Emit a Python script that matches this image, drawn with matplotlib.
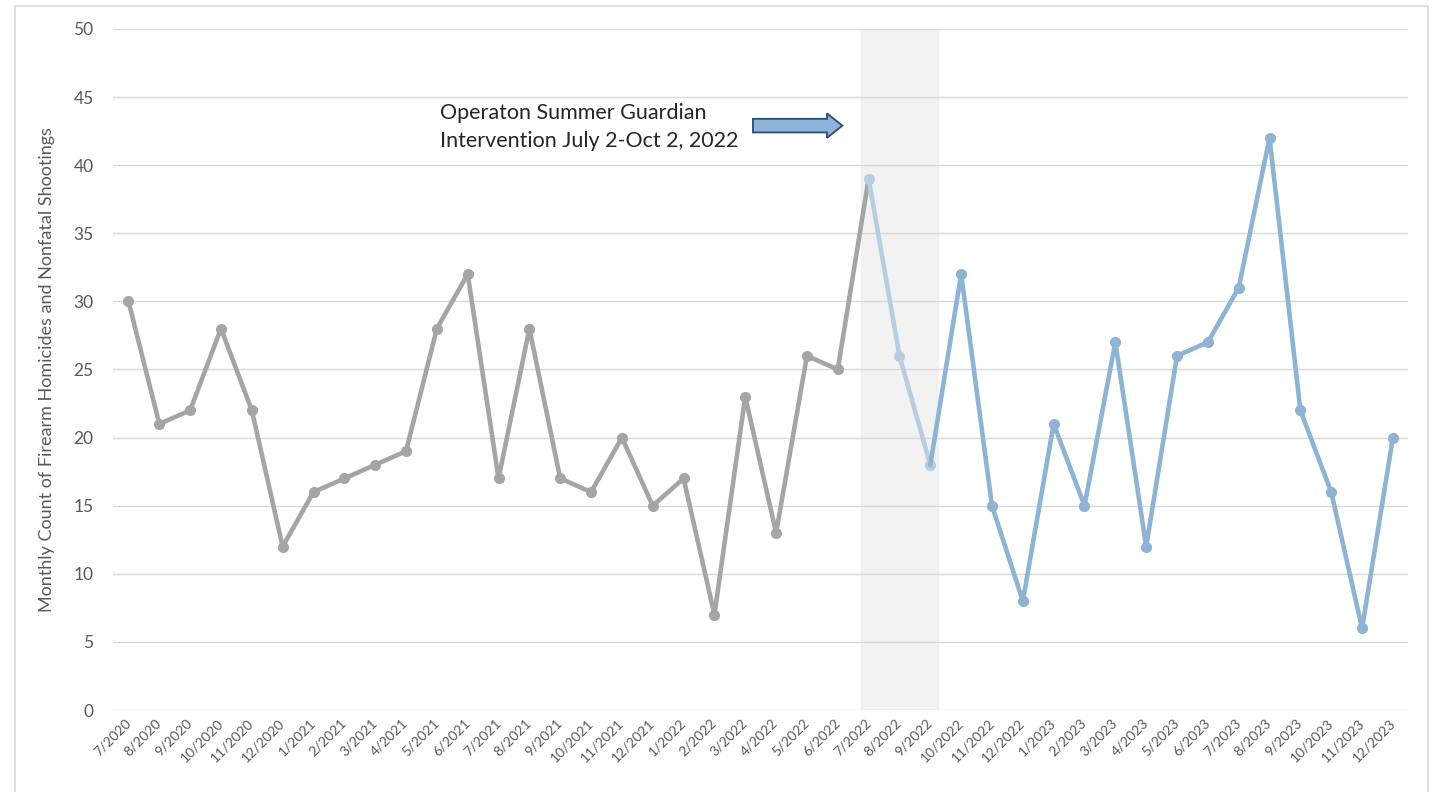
import matplotlib.pyplot as plt
from matplotlib.patches import FancyArrow, Rectangle

plt.rcParams['font.family'] = ['Lato', 'DejaVu Sans']

months = ['7/2020', '8/2020', '9/2020', '10/2020', '11/2020', '12/2020',
          '1/2021', '2/2021', '3/2021', '4/2021', '5/2021', '6/2021',
          '7/2021', '8/2021', '9/2021', '10/2021', '11/2021', '12/2021',
          '1/2022', '2/2022', '3/2022', '4/2022', '5/2022', '6/2022',
          '7/2022', '8/2022', '9/2022', '10/2022', '11/2022', '12/2022',
          '1/2023', '2/2023', '3/2023', '4/2023', '5/2023', '6/2023',
          '7/2023', '8/2023', '9/2023', '10/2023', '11/2023', '12/2023']
counts = [30, 21, 22, 28, 22, 12, 16, 17, 18, 19, 28, 32,
          17, 28, 17, 16, 20, 15, 17, 7, 23, 13, 26, 25,
          39, 26, 18, 32, 15, 8, 21, 15, 27, 12, 26, 27,
          31, 42, 22, 16, 6, 20]

pre_end = 24      # first intervention month (7/2022)
post_start = 26   # last intervention month (9/2022)

gray = '#a5a5a5'
light = '#b9cde0'
blue = '#8eb3d3'
txt = '#595959'

fig = plt.figure(figsize=(14.4, 7.92), dpi=100)
ax = fig.add_axes([0.0785, 0.1035, 0.8995, 0.86])

x = list(range(len(counts)))

# intervention window shading
ax.axvspan(23.75, 26.25, color='#f2f2f2', zorder=0)

ax.plot(x[:pre_end + 1], counts[:pre_end + 1], color=gray, lw=3.3,
        marker='o', ms=7, markevery=list(range(pre_end)), zorder=3)
ax.plot(x[pre_end:post_start + 1], counts[pre_end:post_start + 1], color=light,
        lw=3.3, marker='o', ms=7, zorder=3)
ax.plot(x[post_start:], counts[post_start:], color=blue, lw=3.3,
        marker='o', ms=7, markevery=list(range(1, len(counts) - post_start)), zorder=3)

ax.set_xlim(-0.5, len(counts) - 0.5)
ax.set_ylim(0, 50)
ax.set_yticks(range(0, 51, 5))
ax.set_xticks(x)
ax.set_xticklabels(months, rotation=45, ha='right', va='center',
                   rotation_mode='anchor', fontsize=10, color=txt)
ax.tick_params(axis='y', labelsize=12.5, labelcolor=txt, length=0, pad=14)
ax.tick_params(axis='x', length=0, pad=8)
ax.grid(axis='y', color='#d9d9d9', lw=1)
ax.set_axisbelow(True)
for s in ax.spines.values():
    s.set_visible(False)

ax.set_ylabel('Monthly Count of Firearm Homicides and Nonfatal Shootings',
              fontsize=13, color=txt, labelpad=13)

ax.text(10.1, 42.8, 'Operaton Summer Guardian\nIntervention July 2-Oct 2, 2022',
        fontsize=15.5, color='#262626', va='center', ha='left', linespacing=1.55)
ax.add_patch(FancyArrow(20.25, 42.9, 2.9, 0, width=1.0, head_width=1.8,
                        head_length=0.5, length_includes_head=True,
                        facecolor='#8db3d9', edgecolor='#2f4b6e', lw=1.3,
                        zorder=4))

# outer chart border
fig.patches.append(Rectangle((0.0105, -0.02), 0.981, 1.013, transform=fig.transFigure,
                             fill=False, edgecolor='#d9d9d9', lw=1.2))

fig.savefig('out.png', dpi=100)
